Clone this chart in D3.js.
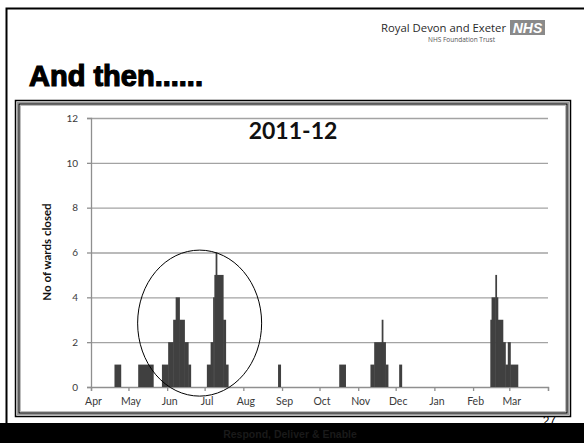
<!DOCTYPE html>
<html>
<head>
<meta charset="utf-8">
<script src="https://cdn.jsdelivr.net/npm/d3@7"></script>
<style>
  body { margin: 0; background: #fff; }
  svg { display: block; }
</style>
</head>
<body>
<svg id="slide" width="584" height="443"></svg>
<script>
// Ward closures, 2011-12: runs of consecutive days with the same count
const periodStart = [
  "2011-04-20", "2011-05-09", "2011-05-28", "2011-06-02", "2011-06-06", "2011-06-08",
  "2011-06-11", "2011-06-15", "2011-06-18", "2011-07-03", "2011-07-06", "2011-07-08",
  "2011-07-09", "2011-07-10", "2011-07-11", "2011-07-16", "2011-07-18", "2011-08-29",
  "2011-10-17", "2011-11-11", "2011-11-14", "2011-11-20", "2011-11-21", "2011-11-23",
  "2011-12-04", "2012-02-15", "2012-02-16", "2012-02-19", "2012-02-20", "2012-02-21",
  "2012-02-25", "2012-02-27", "2012-02-29", "2012-03-02"
];
const periodEnd = [
  "2011-04-24", "2011-05-20", "2011-06-01", "2011-06-05", "2011-06-07", "2011-06-10",
  "2011-06-14", "2011-06-17", "2011-06-19", "2011-07-05", "2011-07-07", "2011-07-08",
  "2011-07-09", "2011-07-10", "2011-07-15", "2011-07-17", "2011-07-19", "2011-08-30",
  "2011-10-21", "2011-11-13", "2011-11-19", "2011-11-20", "2011-11-22", "2011-11-24",
  "2011-12-05", "2012-02-15", "2012-02-18", "2012-02-19", "2012-02-20", "2012-02-24",
  "2012-02-26", "2012-02-28", "2012-03-01", "2012-03-07"
];
const wardsClosed = [
  1, 1, 1, 2, 3, 4,
  3, 2, 1, 1, 2, 4,
  5, 6, 5, 3, 1, 1,
  1, 1, 2, 3, 2, 1,
  1, 3, 4, 5, 4, 3,
  2, 1, 2, 1
];
const monthLabels = ["Apr", "May", "Jun", "Jul", "Aug", "Sep", "Oct", "Nov", "Dec", "Jan", "Feb", "Mar"];
const yTickValues = [0, 2, 4, 6, 8, 10, 12];
const chartTitle = "2011-12";
const yAxisTitle = "No of wards closed";
const slideTitle = "And then......";
const orgName = "Royal Devon and Exeter";
const orgSub = "NHS Foundation Trust";
const footerText = "Respond, Deliver & Enable";
const pageNumber = "27";

const chartFont = "Lato, 'Open Sans', sans-serif";
const svg = d3.select("#slide");
const parse = d3.timeParse("%Y-%m-%d");

// ---- slide furniture ----
svg.append("rect").attr("x", 0).attr("y", 0).attr("width", 584).attr("height", 443).attr("fill", "#fff");
svg.append("path").attr("d", "M6.5,423 V8.5 H584").attr("fill", "none").attr("stroke", "#000").attr("stroke-width", 2);
svg.append("rect").attr("x", 0).attr("y", 423).attr("width", 584).attr("height", 20).attr("fill", "#000");
svg.append("text").attr("x", 290).attr("y", 438).attr("text-anchor", "middle")
  .attr("font-family", "'Liberation Sans', Arial, sans-serif").attr("font-weight", "bold")
  .attr("font-size", 10.5).attr("fill", "#1a1a1a").text(footerText);

svg.append("text").attr("x", 29).attr("y", 86)
  .attr("font-family", "'Liberation Sans', Arial, sans-serif").attr("font-weight", "bold")
  .attr("font-size", 29).attr("fill", "#000")
  .attr("stroke", "#000").attr("stroke-width", 1.2).attr("paint-order", "stroke")
  .text(slideTitle);

svg.append("text").attr("x", 506).attr("y", 32).attr("text-anchor", "end")
  .attr("font-family", "'Open Sans', 'Noto Sans', sans-serif").attr("font-size", 11.3)
  .attr("fill", "#2a2a2a").text(orgName);
svg.append("text").attr("x", 495).attr("y", 42).attr("text-anchor", "end")
  .attr("font-family", "'Open Sans', 'Noto Sans', sans-serif").attr("font-size", 6.5)
  .attr("fill", "#555").text(orgSub);
svg.append("rect").attr("x", 510).attr("y", 20).attr("width", 35).attr("height", 15).attr("fill", "#8a8a8a");
svg.append("text").attr("x", 527.5).attr("y", 33).attr("text-anchor", "middle")
  .attr("font-family", "'Liberation Sans', Arial, sans-serif").attr("font-weight", "bold")
  .attr("font-style", "italic").attr("font-size", 14).attr("fill", "#fff").text("NHS");

// ---- chart frame ----
const frame = svg.append("g");
frame.append("rect").attr("x", 15.5).attr("y", 100.5).attr("width", 555).attr("height", 316)
  .attr("fill", "#fff").attr("stroke", "#000").attr("stroke-width", 1.5);
frame.append("rect").attr("x", 17.5).attr("y", 102.5).attr("width", 551).attr("height", 312)
  .attr("fill", "none").attr("stroke", "#9a9a9a").attr("stroke-width", 1.5);
frame.append("rect").attr("x", 19).attr("y", 104).attr("width", 548).attr("height", 309)
  .attr("fill", "none").attr("stroke", "#000").attr("stroke-width", 1.2);
frame.append("rect").attr("x", 20.5).attr("y", 105.5).attr("width", 545).attr("height", 306)
  .attr("fill", "none").attr("stroke", "#bdbdbd").attr("stroke-width", 1);

// ---- scales ----
const x = d3.scaleTime().domain([new Date(2011, 3, 1), new Date(2012, 3, 1)]).range([91, 548]);
const y = d3.scaleLinear().domain([0, 12]).range([387, 118]);

// gridlines
const grid = svg.append("g").attr("transform", "translate(91,0)")
  .call(d3.axisLeft(y).tickValues(yTickValues.filter(v => v > 0)).tickSize(-457).tickFormat(""));
grid.select(".domain").remove();
grid.selectAll("line").attr("stroke", "#a3a3a3").attr("stroke-width", 1.3);

// y axis
const yAxis = svg.append("g").attr("transform", "translate(91,0)")
  .call(d3.axisLeft(y).tickValues(yTickValues).tickSize(4).tickPadding(9).tickFormat(d3.format("d")));
yAxis.select(".domain").attr("stroke", "#8f8f8f").attr("stroke-width", 1.3);
yAxis.selectAll("line").attr("stroke", "#8f8f8f").attr("stroke-width", 1.3);
yAxis.selectAll("text").attr("font-family", chartFont).attr("font-size", 10).attr("fill", "#3a3a3a");

// x axis: month starts
const monthTicks = d3.timeMonth.range(new Date(2011, 3, 1), new Date(2012, 3, 2));
const xAxis = svg.append("g").attr("transform", "translate(0,387)")
  .call(d3.axisBottom(x).tickValues(monthTicks).tickSize(4).tickPadding(7)
    .tickFormat((d, i) => monthLabels[i] || ""));
xAxis.select(".domain").attr("stroke", "#8f8f8f").attr("stroke-width", 1.3);
xAxis.selectAll("line").attr("stroke", "#8f8f8f").attr("stroke-width", 1.3);
xAxis.selectAll("text").attr("font-family", chartFont).attr("font-size", 10.5).attr("fill", "#3a3a3a")
  .attr("dx", 2);

// bars: each run spans from its first day to the end of its last day
// (a slight overlap keeps neighbouring runs from showing hairline seams)
const runs = wardsClosed.map((v, i) => ({
  start: parse(periodStart[i]),
  end: d3.timeDay.offset(parse(periodEnd[i]), 1),
  value: v
}));
svg.append("g").selectAll("rect").data(runs).join("rect")
  .attr("x", d => x(d.start) - 0.25)
  .attr("width", d => x(d.end) - x(d.start) + 0.5)
  .attr("y", d => y(d.value))
  .attr("height", d => y(0) - y(d.value))
  .attr("fill", "#404040");

// chart title
svg.append("text").attr("x", 293).attr("y", 139).attr("text-anchor", "middle")
  .attr("font-family", chartFont).attr("font-weight", "bold").attr("font-size", 23)
  .attr("fill", "#111").text(chartTitle);

// y axis title
svg.append("text").attr("transform", "translate(51,252) rotate(-90)").attr("text-anchor", "middle")
  .attr("font-family", chartFont).attr("font-weight", "bold").attr("font-size", 11.5)
  .attr("fill", "#111").text(yAxisTitle);

// ellipse highlighting the summer outbreaks
svg.append("ellipse")
  .attr("cx", x(new Date(2011, 5, 27)))
  .attr("cy", y(2.85))
  .attr("rx", 62).attr("ry", 73)
  .attr("fill", "none").attr("stroke", "#000").attr("stroke-width", 1);

// page number
svg.append("text").attr("x", 556).attr("y", 425).attr("text-anchor", "end")
  .attr("font-family", "'Liberation Sans', Arial, sans-serif").attr("font-size", 12)
  .attr("fill", "#000").text(pageNumber);
</script>
</body>
</html>
